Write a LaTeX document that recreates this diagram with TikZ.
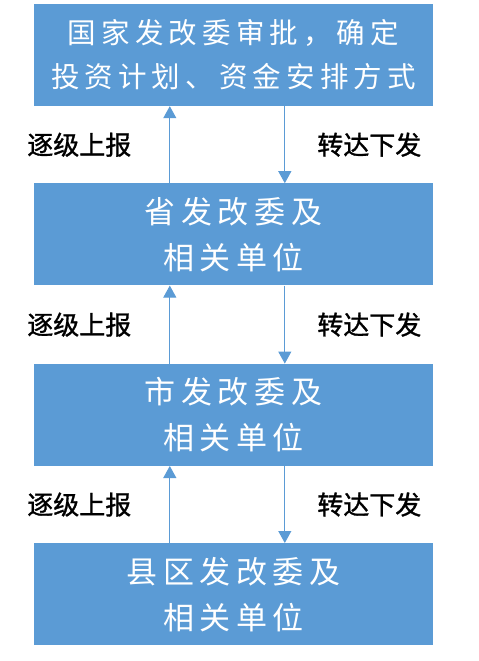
\documentclass[tikz,border=0pt]{standalone}
\usepackage{fontspec}
\usepackage{tikz}
\usetikzlibrary{arrows.meta, positioning}
\newfontfamily\cjkbox[LetterSpace=18]{Noto Sans CJK SC}
\newfontfamily\cjklabel[FakeBold=1.2]{Noto Sans CJK SC}
\definecolor{OfficeBlue}{HTML}{5B9BD5}
\tikzset{
  levelbox/.style={rectangle, fill=OfficeBlue, text=white, minimum width=399pt,
                   minimum height=102pt, align=center, inner sep=0pt},
  flowarrow/.style={-{Triangle[width=13pt, length=12pt]}, line width=1pt, OfficeBlue},
  sidelabel/.style={text=black, inner sep=0pt, font=\cjklabel\fontsize{26pt}{30pt}\selectfont}
}
\begin{document}
\begin{tikzpicture}
    \useasboundingbox (0pt,0pt) rectangle (479pt,-661pt);

    % Levels
    \node[levelbox, font=\cjkbox\fontsize{28.5pt}{44pt}\selectfont] (nation) at (233.5pt,-55pt)
        {国家发改委审批，确定\\投资计划、资金安排方式};
    \node[levelbox, font=\cjkbox\fontsize{31pt}{46pt}\selectfont, below=77pt of nation] (province)
        {省发改委及\\相关单位};
    \node[levelbox, font=\cjkbox\fontsize{31pt}{46pt}\selectfont, below=78pt of province] (city)
        {市发改委及\\相关单位};
    \node[levelbox, font=\cjkbox\fontsize{31pt}{46pt}\selectfont, below=77pt of city] (county)
        {县区发改委及\\相关单位};

    % Arrows
    \draw[flowarrow] ([xshift=136pt]province.north west) --
        node[sidelabel, left=38pt] (up1) {逐级上报} ([xshift=136pt]nation.south west);
    \draw[flowarrow] ([xshift=251pt]nation.south west) --
        node[sidelabel, right=32pt] (down1) {转达下发} ([xshift=251pt]province.north west);
    \draw[flowarrow] ([xshift=136pt]city.north west) --
        node[sidelabel, left=38pt] (up2) {逐级上报} ([xshift=136pt]province.south west);
    \draw[flowarrow] ([xshift=251pt]province.south west) --
        node[sidelabel, right=32pt] (down2) {转达下发} ([xshift=251pt]city.north west);
    \draw[flowarrow] ([xshift=136pt]county.north west) --
        node[sidelabel, left=38pt] (up3) {逐级上报} ([xshift=136pt]city.south west);
    \draw[flowarrow] ([xshift=251pt]city.south west) --
        node[sidelabel, right=32pt] (down3) {转达下发} ([xshift=251pt]county.north west);
\end{tikzpicture}
\end{document}
